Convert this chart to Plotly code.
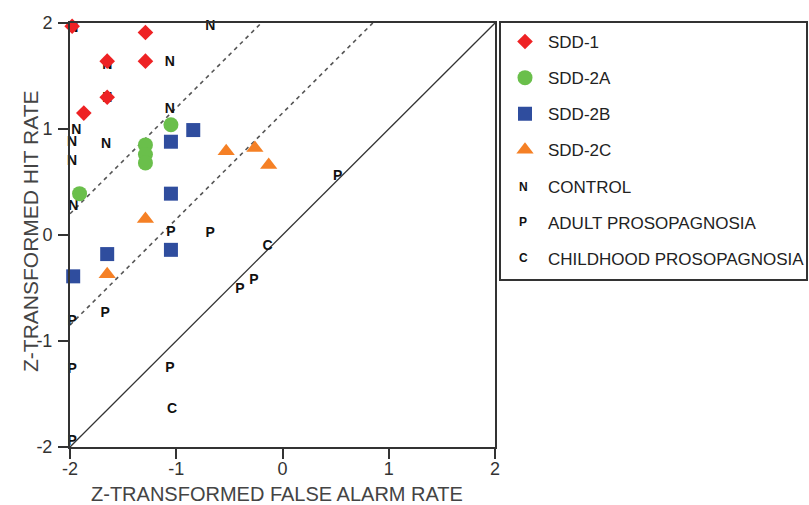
import plotly.graph_objects as go

# ---- data (z-transformed false alarm rate, z-transformed hit rate) ----
sdd1_x = [-1.98, -1.29, -1.65, -1.29, -1.65, -1.87]
sdd1_y = [1.97, 1.91, 1.64, 1.64, 1.30, 1.15]

sdd2a_x = [-1.05, -1.29, -1.29, -1.29, -1.91]
sdd2a_y = [1.04, 0.85, 0.76, 0.68, 0.39]

sdd2b_x = [-0.84, -1.05, -1.05, -1.65, -1.05, -1.97]
sdd2b_y = [0.99, 0.88, 0.39, -0.18, -0.14, -0.39]

sdd2c_x = [-0.53, -0.26, -0.13, -1.29, -1.65]
sdd2c_y = [0.79, 0.82, 0.66, 0.15, -0.37]

control_x = [-1.97, -0.68, -1.65, -1.06, -1.65, -1.06, -1.94, -1.98, -1.66, -1.98, -1.97]
control_y = [1.95, 1.97, 1.60, 1.63, 1.29, 1.18, 0.99, 0.87, 0.85, 0.69, 0.27]

adult_x = [-1.05, -0.68, -0.40, -0.27, -1.67, -1.98, -1.06, -1.98, -1.98, 0.52]
adult_y = [0.02, 0.01, -0.51, -0.43, -0.74, -0.82, -1.26, -1.27, -1.95, 0.55]

child_x = [-0.14, -1.04]
child_y = [-0.11, -1.65]

# axes
axis_range = [-2, 2]
tick_vals = [-2, -1, 0, 1, 2]
tick_text = ["-2", "-1", "0", "1", "2"]

# diagonal (chance) and criterion lines: hit = fa + offset
dashed_offsets = [2.2, 1.15]

FONT = "Liberation Sans, Arial, sans-serif"

fig = go.Figure()

# chance diagonal
fig.add_trace(go.Scatter(x=axis_range, y=axis_range, mode="lines",
                         line=dict(color="#333333", width=1.3),
                         showlegend=False, hoverinfo="skip"))
for off in dashed_offsets:
    xs = [axis_range[0], axis_range[1] - off]
    ys = [x + off for x in xs]
    fig.add_trace(go.Scatter(x=xs, y=ys, mode="lines",
                             line=dict(color="#555555", width=1.6, dash="4px,4px"),
                             showlegend=False, hoverinfo="skip"))

marker_series = [
    ("SDD-1", sdd1_x, sdd1_y, "diamond", "#ee2224", 12),
    ("SDD-2A", sdd2a_x, sdd2a_y, "circle", "#6abf4b", 15),
    ("SDD-2B", sdd2b_x, sdd2b_y, "square", "#2f4d9e", 14),
    ("SDD-2C", sdd2c_x, sdd2c_y, "triangle-up", "#f58025", 15),
]

# text-glyph series drawn first so the coloured markers sit on top where they overlap
text_series = [
    ("CONTROL", control_x, control_y, "N"),
    ("ADULT PROSOPAGNOSIA", adult_x, adult_y, "P"),
    ("CHILDHOOD PROSOPAGNOSIA", child_x, child_y, "C"),
]
for name, xs, ys, glyph in text_series:
    fig.add_trace(go.Scatter(x=xs, y=ys, mode="text", text=[glyph] * len(xs),
                             textposition="middle center",
                             textfont=dict(family=FONT, size=14, color="#111111", weight="bold"),
                             cliponaxis=False, showlegend=False, name=name))

for i, (name, xs, ys, sym, col, sz) in enumerate(marker_series):
    fig.add_trace(go.Scatter(x=xs, y=ys, mode="markers", name=name,
                             marker=dict(symbol=sym, color=col, size=sz, line=dict(width=0)),
                             cliponaxis=False, legendgroup=name, legendrank=i))

# legend-only entries for the glyph series (glyphs added as annotations)
for j, (name, xs, ys, glyph) in enumerate(text_series):
    fig.add_trace(go.Scatter(x=[None], y=[None], mode="markers", name=name,
                             marker=dict(size=1, opacity=0),
                             legendgroup=name, legendrank=10 + j))

W, H = 809, 505
PLOT_L, PLOT_T, PLOT_W, PLOT_H = 70, 23, 425, 424


def px_to_paper(px, py):
    return (px - PLOT_L) / PLOT_W, 1 - (py - PLOT_T) / PLOT_H


legend_glyph_rows = [187, 222, 258]
for (name, xs, ys, glyph), row in zip(text_series, legend_glyph_rows):
    gx, gy = px_to_paper(523, row)
    fig.add_annotation(x=gx, y=gy, xref="paper", yref="paper", text=glyph,
                       xanchor="center", yanchor="middle", showarrow=False,
                       font=dict(family=FONT, size=12, color="#111111", weight="bold"))

# legend frame
bx0, by0 = px_to_paper(500, 280)
bx1, by1 = px_to_paper(807, 22)
fig.add_shape(type="rect", xref="paper", yref="paper", x0=bx0, y0=by0, x1=bx1, y1=by1,
              line=dict(color="#333333", width=2), fillcolor="rgba(0,0,0,0)", layer="above")

# axis titles
tx, ty = px_to_paper(277, 494)
fig.add_annotation(x=tx, y=ty, xref="paper", yref="paper",
                   text="Z-TRANSFORMED FALSE ALARM RATE", showarrow=False,
                   xanchor="center", yanchor="middle",
                   font=dict(family=FONT, size=20, color="#444444"))
tx, ty = px_to_paper(30, 231)
fig.add_annotation(x=tx, y=ty, xref="paper", yref="paper",
                   text="Z-TRANSFORMED HIT RATE", showarrow=False, textangle=-90,
                   xanchor="center", yanchor="middle",
                   font=dict(family=FONT, size=21, color="#444444"))

axis_common = dict(range=axis_range, tickvals=tick_vals, ticktext=tick_text,
                   showgrid=False, zeroline=False, showline=True,
                   linecolor="#333333", linewidth=2, mirror=True,
                   ticks="outside", ticklen=10, tickwidth=1.5,
                   tickcolor="#333333", automargin=False,
                   tickfont=dict(family=FONT, size=18, color="#333333"))

lx, ly = px_to_paper(502, 24)
fig.update_layout(
    width=W, height=H,
    margin=dict(l=PLOT_L, r=W - PLOT_L - PLOT_W, t=PLOT_T, b=H - PLOT_T - PLOT_H,
                autoexpand=False),
    paper_bgcolor="white", plot_bgcolor="white",
    xaxis=dict(axis_common, ticklabelstandoff=-6),
    yaxis=dict(axis_common, ticklabelstandoff=2),
    legend=dict(x=lx, y=ly, xanchor="left", yanchor="top",
                borderwidth=0, bgcolor="rgba(0,0,0,0)",
                font=dict(family=FONT, size=17, color="#222222"),
                itemwidth=36,
                tracegroupgap=11, traceorder="grouped"),
    showlegend=True,
)

fig.write_html(
    "out.html",
    config={"displayModeBar": False},
    post_script="document.body.style.margin='0';document.body.style.overflow='hidden';",
)
